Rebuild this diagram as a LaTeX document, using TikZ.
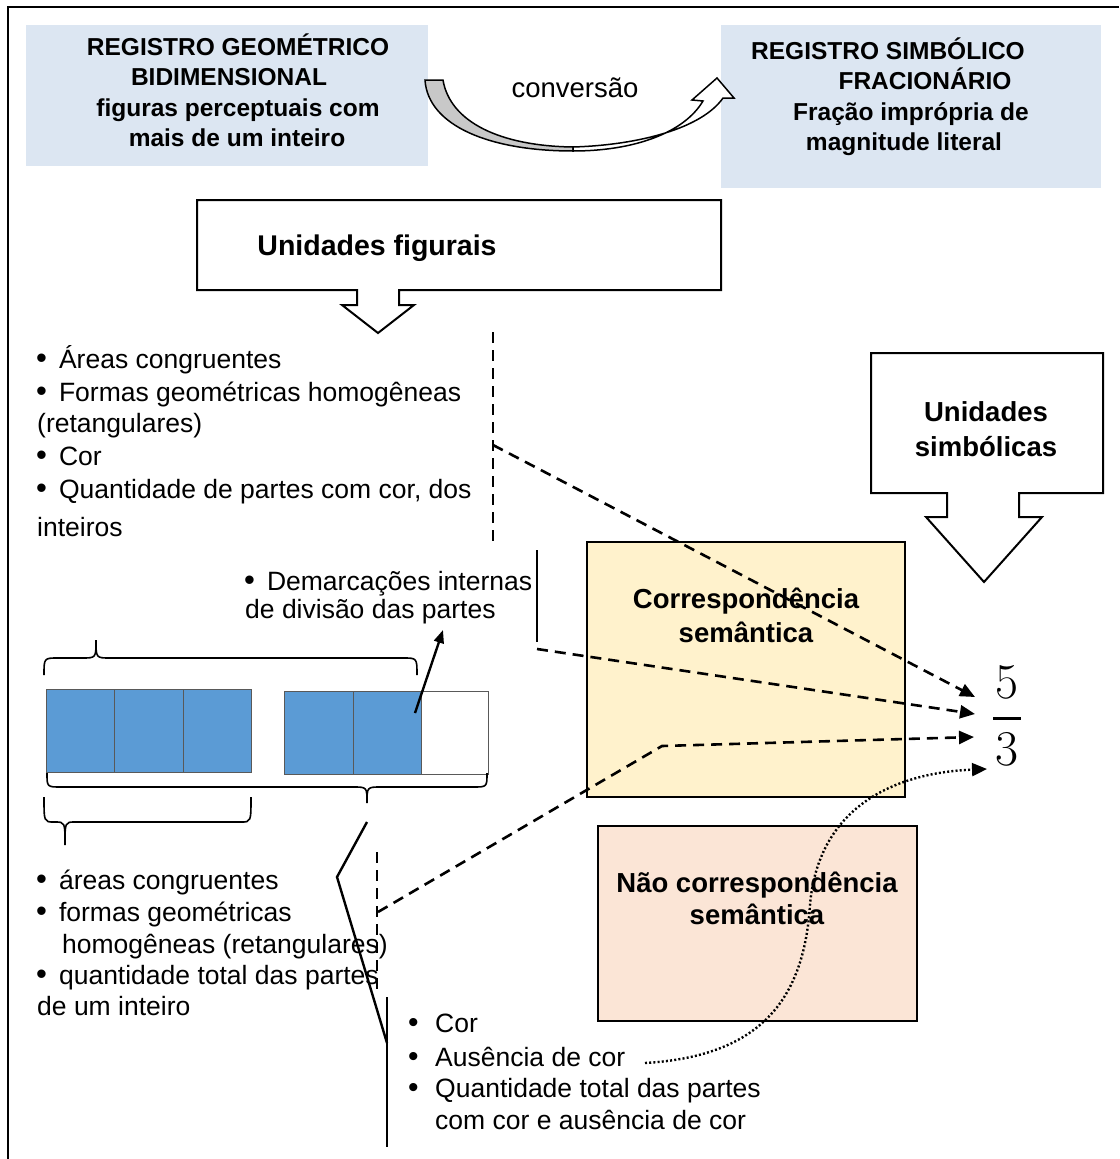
\documentclass[tikz,border=0pt]{standalone}
\usepackage{fontspec}
\setmainfont{Liberation Sans}
\usetikzlibrary{arrows.meta}
\definecolor{regblue}{RGB}{220,230,242}
\definecolor{corryellow}{RGB}{255,242,204}
\definecolor{noncorrpink}{RGB}{251,229,214}
\definecolor{cellblue}{RGB}{91,155,213}
\definecolor{cellgray}{RGB}{89,89,89}
\definecolor{ribbongray}{RGB}{200,200,200}
% bullet used in the left-hand lists
\newcommand{\listbullet}{{\fontsize{31}{32}\selectfont\textbullet}\hspace{12pt}}
\tikzset{
  body/.style={font=\fontsize{26.5}{32}\selectfont, inner sep=0pt, anchor=base west},
  bodybold/.style={font=\bfseries\fontsize{27.5}{32}\selectfont, inner sep=0pt, anchor=base},
  headtext/.style={font=\bfseries\fontsize{24.5}{30}\selectfont, inner sep=0pt, anchor=base},
  fracdigit/.style={inner sep=0pt, font=\fontfamily{lmr}\fontsize{50}{50}\selectfont},
  callout/.style={draw=black, fill=white, line width=2pt, line join=miter},
  semanticbox/.style={draw=black, line width=1.5pt},
  cell/.style={draw=cellgray, line width=1pt},
  brace/.style={draw=black, line width=1.6pt},
  solidline/.style={draw=black, line width=2.4pt},
  dashline/.style={draw=black, line width=2.6pt, dash pattern=on 11pt off 7pt},
  dasharrow/.style={dashline, -{Triangle[length=15pt,width=13pt]}},
  dotarrow/.style={draw=black, line width=2.4pt, dash pattern=on 2pt off 2.2pt, -{Triangle[length=15pt,width=13pt]}},
  pointer/.style={solidline, -{Triangle[length=13pt,width=10pt]}},
}
\begin{document}
\begin{tikzpicture}[x=1pt,y=-1pt]
\useasboundingbox (0,0) rectangle (1119,1159);

% frame
\draw[line width=2pt] (8,1159) -- (8,7) -- (1119,7);

% register boxes
\fill[regblue] (26,25) rectangle (428,166);
\node[headtext] (rg1) at (238,55) {REGISTRO GEOMÉTRICO};
\node[headtext] (rg2) at (229,85.5) {BIDIMENSIONAL};
\node[headtext] (rg3) at (238,116) {figuras perceptuais com};
\node[headtext] (rg4) at (237,146.5) {mais de um inteiro};

\fill[regblue] (721,25) rectangle (1101,188);
\node[headtext] (rs1) at (888,59) {REGISTRO SIMBÓLICO};
\node[headtext] (rs2) at (925,89.5) {FRACIONÁRIO};
\node[headtext] (rs3) at (911,120) {Fração imprópria de};
\node[headtext] (rs4) at (904,150.5) {magnitude literal};

% curved conversion arrow
\filldraw[fill=ribbongray, draw=black, line width=1.5pt]
  (425,80) -- (443,80) .. controls (450,122) and (500,146) .. (573,147)
  -- (573,151) .. controls (490,151) and (428,126) .. (425,80) -- cycle;
\filldraw[fill=white, draw=black, line width=1.5pt, line join=miter]
  (573,151) .. controls (634,151) and (684,133) .. (703,101)
  -- (692,100) -- (717,78) -- (734,98) -- (723,98)
  .. controls (702,128) and (640,145) .. (573,147) -- cycle;
\node[font=\fontsize{27.5}{32}\selectfont, inner sep=0pt, anchor=base] (conv) at (575,97) {conversão};

% callout: figural units
\draw[callout] (197,200) -- (721,200) -- (721,290) -- (399,290) -- (399,305)
  -- (414,305) -- (378,333) -- (342,305) -- (357,305) -- (357,290)
  -- (197,290) -- cycle;
\node[bodybold, font=\bfseries\fontsize{28.5}{32}\selectfont] (uf) at (377,255) {Unidades figurais};

% callout: symbolic units
\draw[callout] (871,353) -- (1103,353) -- (1103,493) -- (1019,493) -- (1019,517)
  -- (1042,517) -- (984,582) -- (926,517) -- (947,517) -- (947,493)
  -- (871,493) -- cycle;
\node[bodybold] (us1) at (986,421) {Unidades};
\node[bodybold] (us2) at (986,456) {simbólicas};

% semantic correspondence boxes
\filldraw[semanticbox, fill=corryellow] (587,542) rectangle (905,797);
\node[bodybold] (cs1) at (746,608) {Correspondência};
\node[bodybold] (cs2) at (746,642) {semântica};

\filldraw[semanticbox, fill=noncorrpink] (598,826) rectangle (917,1021);
\node[bodybold] (ns1) at (757,892) {Não correspondência};
\node[bodybold] (ns2) at (757,924) {semântica};

% figural units list (upper)
\node[body] (a1) at (36,368) {\listbullet Áreas congruentes};
\node[body] (a2) at (36,401) {\listbullet Formas geométricas homogêneas};
\node[body] (a3) at (37,432) {(retangulares)};
\node[body] (a4) at (36,465) {\listbullet Cor};
\node[body] (a5) at (36,498) {\listbullet Quantidade de partes com cor, dos};
\node[body] (a6) at (37,536) {inteiros};

\node[body] (dm1) at (244,590) {\listbullet Demarcações internas};
\node[body] (dm2) at (245,618) {de divisão das partes};

% figural units list (lower)
\node[body] (b1) at (36,889) {\listbullet áreas congruentes};
\node[body] (b2) at (36,921) {\listbullet formas geométricas};
\node[body] (b3) at (62,953) {homogêneas (retangulares)};
\node[body] (b4) at (36,984) {\listbullet quantidade total das partes};
\node[body] (b5) at (37,1015) {de um inteiro};

% figural units list (bottom)
\node[body, font=\fontsize{30}{32}\selectfont] (cb1) at (408,1032) {\textbullet};
\node[body, font=\fontsize{30}{32}\selectfont] (cb2) at (408,1066) {\textbullet};
\node[body, font=\fontsize{30}{32}\selectfont] (cb3) at (408,1097) {\textbullet};
\node[body] (c1) at (435,1032) {Cor};
\node[body] (c2) at (435,1066) {Ausência de cor};
\node[body] (c3) at (435,1097) {Quantidade total das partes};
\node[body] (c4) at (435,1129) {com cor e ausência de cor};

% the fraction 5/3
\node[fracdigit] (num) at (1007,682) {5};
\node[fill=black, inner sep=0pt, minimum width=28pt, minimum height=3pt] (bar) at (1007,718) {};
\node[fracdigit] (den) at (1007,749) {3};

% two wholes divided into thirds
\filldraw[cell, fill=cellblue] (46,689) rectangle (114,772);
\filldraw[cell, fill=cellblue] (114,689) rectangle (183,772);
\filldraw[cell, fill=cellblue] (183,689) rectangle (251,772);
\filldraw[cell, fill=cellblue] (284,691) rectangle (353,774);
\filldraw[cell, fill=cellblue] (353,691) rectangle (421,774);
\filldraw[cell, fill=white] (421,691) rectangle (488,774);

% braces
\draw[brace] (44,675) .. controls (44,658) .. (58,658) -- (82,658)
  .. controls (96,658) .. (96,640) .. controls (96,658) .. (110,658)
  -- (403,658) .. controls (417,658) .. (417,675);
\draw[brace] (47,773) .. controls (47,787) .. (61,787) -- (353,787)
  .. controls (367,787) .. (367,803) .. controls (367,787) .. (381,787)
  -- (473,787) .. controls (487,787) .. (487,773);
\draw[brace] (44,797) .. controls (44,822) .. (54,822) -- (55,822)
  .. controls (65,822) .. (65,845) .. controls (65,822) .. (75,822)
  -- (241,822) .. controls (251,822) .. (251,797);

% guide lines
\coordinate (d1top) at (493,332);
\coordinate (d1bot) at (493,548);
\coordinate (d1src) at (493,445);
\coordinate (s1top) at (537,550);
\coordinate (s1bot) at (537,642);
\coordinate (d2src) at (537,649);
\coordinate (d3top) at (377,852);
\coordinate (d3bot) at (377,992);
\coordinate (d3src) at (378,912);
\coordinate (d3bend) at (662,746);
\coordinate (zz1) at (367,822);
\coordinate (zz2) at (337,877);
\coordinate (zz3) at (387,1043);
\coordinate (v3top) at (387,997);
\coordinate (v3bot) at (387,1147);
\coordinate (ptrsrc) at (415,713);
\coordinate (ptrtip) at (443,630);
\coordinate (dotsrc) at (645,1063);
\coordinate (f1) at (975,697);
\coordinate (f2) at (975,714);
\coordinate (f3) at (974,737);
\coordinate (f4) at (987,769);

\draw[dashline] (d1top) -- (d1bot);
\draw[solidline] (s1top) -- (s1bot);
\draw[dashline] (d3top) -- (d3bot);
\draw[solidline, line join=miter] (zz1) -- (zz2) -- (zz3);
\draw[solidline] (v3top) -- (v3bot);
\draw[pointer] (ptrsrc) -- (ptrtip);

\draw[dasharrow] (d1src) -- (f1);
\draw[dasharrow] (d2src) -- (f2);
\draw[dasharrow] (d3src) -- (d3bend) -- (f3);
\draw[dotarrow] (dotsrc) .. controls (765,1056) and (804,995) .. (810,905)
  .. controls (818,810) and (890,773) .. (f4);
\end{tikzpicture}
\end{document}
